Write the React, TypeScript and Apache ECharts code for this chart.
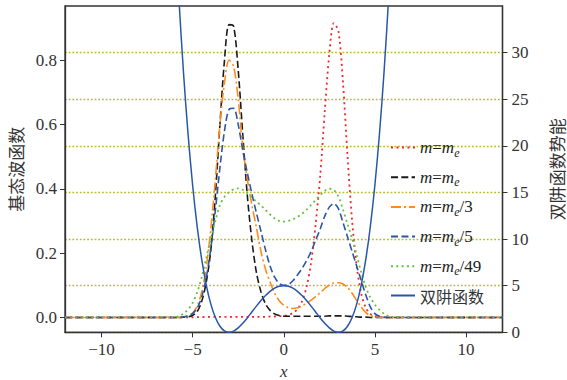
import React, { useEffect, useRef } from "react";
import * as echarts from "echarts";

// x sample positions for the wave functions
const xs = [-12, -6, -5.75, -5.5, -5.25, -5, -4.75, -4.5, -4.25, -4, -3.75, -3.5, -3.25, -3, -2.75, -2.5, -2.25, -2, -1.75, -1.5, -1.25, -1, -0.75, -0.5, -0.25, 0, 0.25, 0.5, 0.75, 1, 1.25, 1.5, 1.75, 2, 2.25, 2.5, 2.75, 3, 3.25, 3.5, 3.75, 4, 4.25, 4.5, 4.75, 5, 5.25, 5.5, 5.75, 6, 12];

// m = m_e, localized in the right well (red dotted)
const psiRight = [0, 0, 0, 0, 0, 0, 0.001, 0.001, 0.002, 0.002, 0.002, 0.002, 0.002, 0.002, 0.002, 0.002, 0.002, 0.002, 0.002, 0.002, 0.002, 0.002, 0.003, 0.003, 0.004, 0.005, 0.008, 0.014, 0.026, 0.05, 0.095, 0.17, 0.29, 0.44, 0.64, 0.82, 0.915, 0.89, 0.73, 0.5, 0.3, 0.16, 0.075, 0.03, 0.011, 0.004, 0.001, 0, 0, 0, 0];
// m = m_e, localized in the left well (black dashed)
const psiLeft = [0, 0, 0, 0.001, 0.002, 0.006, 0.018, 0.05, 0.11, 0.21, 0.38, 0.6, 0.8, 0.91, 0.905, 0.77, 0.57, 0.38, 0.24, 0.14, 0.08, 0.042, 0.022, 0.011, 0.006, 0.004, 0.004, 0.004, 0.004, 0.004, 0.004, 0.004, 0.004, 0.004, 0.004, 0.005, 0.005, 0.005, 0.005, 0.004, 0.003, 0.002, 0.001, 0.001, 0, 0, 0, 0, 0, 0, 0];
// m = m_e/3 (orange dash-dot)
const psiM3 = [0, 0, 0, 0.002, 0.005, 0.014, 0.035, 0.079, 0.157, 0.276, 0.43, 0.6, 0.73, 0.8, 0.78, 0.68, 0.53, 0.43, 0.35, 0.28, 0.205, 0.15, 0.11, 0.075, 0.052, 0.038, 0.031, 0.028, 0.03, 0.036, 0.044, 0.054, 0.065, 0.077, 0.09, 0.101, 0.107, 0.108, 0.104, 0.093, 0.075, 0.053, 0.032, 0.015, 0.006, 0.002, 0.001, 0, 0, 0, 0];
// m = m_e/5 (blue dashed)
const psiM5 = [0, 0, 0, 0.002, 0.005, 0.012, 0.029, 0.064, 0.124, 0.215, 0.334, 0.466, 0.58, 0.647, 0.65, 0.6, 0.52, 0.45, 0.385, 0.325, 0.268, 0.21, 0.16, 0.125, 0.106, 0.1, 0.102, 0.114, 0.132, 0.152, 0.176, 0.205, 0.24, 0.275, 0.315, 0.343, 0.354, 0.338, 0.295, 0.25, 0.205, 0.16, 0.115, 0.07, 0.033, 0.012, 0.004, 0.001, 0, 0, 0];
// m = m_e/49 (green dotted)
const psiM49 = [0, 0.001, 0.004, 0.012, 0.025, 0.045, 0.078, 0.125, 0.185, 0.245, 0.3, 0.35, 0.375, 0.39, 0.398, 0.401, 0.397, 0.387, 0.373, 0.36, 0.348, 0.334, 0.32, 0.308, 0.3, 0.298, 0.3, 0.305, 0.312, 0.322, 0.335, 0.35, 0.365, 0.38, 0.394, 0.4, 0.396, 0.376, 0.335, 0.29, 0.245, 0.195, 0.14, 0.095, 0.062, 0.04, 0.024, 0.012, 0.004, 0.001, 0];

// double-well potential (right axis)
const potX = [-6, -5.75, -5.5, -5.25, -5, -4.75, -4.5, -4.25, -4, -3.75, -3.5, -3.25, -3, -2.75, -2.5, -2.25, -2, -1.75, -1.5, -1.25, -1, -0.75, -0.5, -0.25, 0, 0.25, 0.5, 0.75, 1, 1.25, 1.5, 1.75, 2, 2.25, 2.5, 2.75, 3, 3.25, 3.5, 3.75, 4, 4.25, 4.5, 4.75, 5, 5.25, 5.5, 5.75, 6];
const potV = [45, 35.74, 27.87, 21.27, 15.8, 11.35, 7.81, 5.07, 3.02, 1.58, 0.65, 0.15, 0, 0.13, 0.47, 0.96, 1.54, 2.18, 2.81, 3.41, 3.95, 4.39, 4.73, 4.93, 5, 4.93, 4.73, 4.39, 3.95, 3.41, 2.81, 2.18, 1.54, 0.96, 0.47, 0.13, 0, 0.15, 0.65, 1.58, 3.02, 5.07, 7.81, 11.35, 15.8, 21.27, 27.87, 35.74, 45];

const xTicks = [-10, -5, 0, 5, 10];
const leftTicks = [0, 0.2, 0.4, 0.6, 0.8];
const rightTicks = [0, 5, 10, 15, 20, 25, 30];

const legendNames = ["me_a", "me_b", "me_3", "me_5", "me_49", "well"];
const legendLabels: Record<string, string> = {
  me_a: "{i|m}{n|=}{i|m}{s|e}",
  me_b: "{i|m}{n|=}{i|m}{s|e}",
  me_3: "{i|m}{n|=}{i|m}{s|e}{n|/3}",
  me_5: "{i|m}{n|=}{i|m}{s|e}{n|/5}",
  me_49: "{i|m}{n|=}{i|m}{s|e}{n|/49}",
  well: "{c|双阱函数}",
};

const SERIF = "Liberation Serif";
const CJK = "Noto Sans CJK SC";
const TXT = "#333";

export default function App() {
  const ref = useRef<HTMLDivElement>(null);
  useEffect(() => {
    if (!ref.current) return;
    const chart = echarts.init(ref.current, undefined, { renderer: "svg" });
    const pair = (arr: number[]) => xs.map((x, i) => [x, arr[i]]);
    const mk = (name: string, data: number[][], color: string, type: any, yIdx = 0, width = 1.6) => ({
      name,
      type: "line",
      data,
      yAxisIndex: yIdx,
      symbol: "none",
      smooth: 0.3,
      clip: true,
      lineStyle: { color, width, type },
      itemStyle: { color },
    });
    chart.setOption({
      animation: false,
      backgroundColor: "#fff",
      grid: {
        left: 65,
        right: 64.5,
        top: 6,
        bottom: 47.7,
        outerBoundsMode: "none",
        containLabel: false,
        show: true,
        borderColor: "#333",
        borderWidth: 1.3,
        backgroundColor: "transparent",
      },
      legend: {
        orient: "vertical",
        left: 390,
        top: 139,
        padding: 0,
        itemWidth: 24,
        itemHeight: 14,
        itemGap: 10.2,
        data: legendNames,
        itemStyle: { opacity: 0 },
        formatter: (name: string) => legendLabels[name],
        textStyle: {
          fontFamily: SERIF,
          fontSize: 17,
          color: "#222",
          rich: {
            i: { fontFamily: SERIF, fontStyle: "italic", fontSize: 17, color: "#222", lineHeight: 22, verticalAlign: "middle" },
            n: { fontFamily: SERIF, fontSize: 17, color: "#222", lineHeight: 22, verticalAlign: "middle" },
            s: { fontFamily: SERIF, fontStyle: "italic", fontSize: 12, color: "#222", lineHeight: 13, verticalAlign: "bottom" },
            c: { fontFamily: CJK, fontSize: 16, color: "#333", lineHeight: 22, verticalAlign: "middle" },
          },
        },
      },
      xAxis: {
        type: "value",
        min: -12,
        max: 12,
        name: "x",
        nameLocation: "middle",
        nameGap: 27,
        nameTextStyle: { fontFamily: SERIF, fontStyle: "italic", fontSize: 17, color: TXT },
        axisLine: { show: true, onZero: false, lineStyle: { color: "#333", width: 1.3 } },
        axisTick: { show: true, inside: false, length: 5, customValues: xTicks, lineStyle: { color: "#333" } },
        axisLabel: {
          customValues: xTicks,
          margin: 9,
          fontFamily: SERIF,
          fontSize: 17,
          color: TXT,
          formatter: (v: number) => (v < 0 ? "\u2212" + Math.abs(v) : String(v)),
        },
        splitLine: { show: false },
      },
      yAxis: [
        {
          type: "value",
          min: -0.0461,
          max: 0.968,
          name: "基态波函数",
          nameLocation: "middle",
          nameRotate: 90,
          nameGap: 41.5,
          nameTextStyle: { fontFamily: CJK, fontSize: 17, color: TXT },
          axisLine: { show: true, onZero: false, lineStyle: { color: "#333", width: 1.3 } },
          axisTick: { show: true, inside: false, length: 5, customValues: leftTicks, lineStyle: { color: "#333" } },
          axisLabel: {
            customValues: leftTicks,
            margin: 8,
            fontFamily: SERIF,
            fontSize: 17,
            color: TXT,
            formatter: (v: number) => v.toFixed(1),
          },
          splitLine: { show: false },
        },
        {
          type: "value",
          min: 0,
          max: 35,
          interval: 5,
          position: "right",
          name: "双阱函数势能",
          nameLocation: "middle",
          nameRotate: 90,
          nameGap: 45,
          nameTextStyle: { fontFamily: CJK, fontSize: 17, color: TXT },
          axisLine: { show: true, onZero: false, lineStyle: { color: "#333", width: 1.3 } },
          axisTick: { show: true, inside: false, length: 5, customValues: rightTicks, lineStyle: { color: "#333" } },
          axisLabel: {
            customValues: rightTicks,
            margin: 9,
            fontFamily: SERIF,
            fontSize: 17,
            color: TXT,
          },
          splitLine: { show: true, lineStyle: { color: "#bcbd22", width: 1.3, type: [1.8, 1.9] } },
        },
      ],
      series: [
        mk("me_a", pair(psiRight), "#ee2a2a", [2, 3.5], 0, 1.8),
        mk("me_b", pair(psiLeft), "#1a1a1a", [7, 3.3]),
        mk("me_3", pair(psiM3), "#ff8c1a", [10, 3, 2, 3]),
        mk("me_5", pair(psiM5), "#2a56a8", [7, 3.5]),
        mk("me_49", pair(psiM49), "#66c040", [2, 3.3], 0, 1.8),
        mk("well", potX.map((x, i) => [x, potV[i]]), "#2a56a8", "solid", 1, 1.5),
      ],
    });
    return () => chart.dispose();
  }, []);
  return <div ref={ref} style={{ position: "fixed", left: 0, top: 0, width: 567, height: 380 }} />;
}
